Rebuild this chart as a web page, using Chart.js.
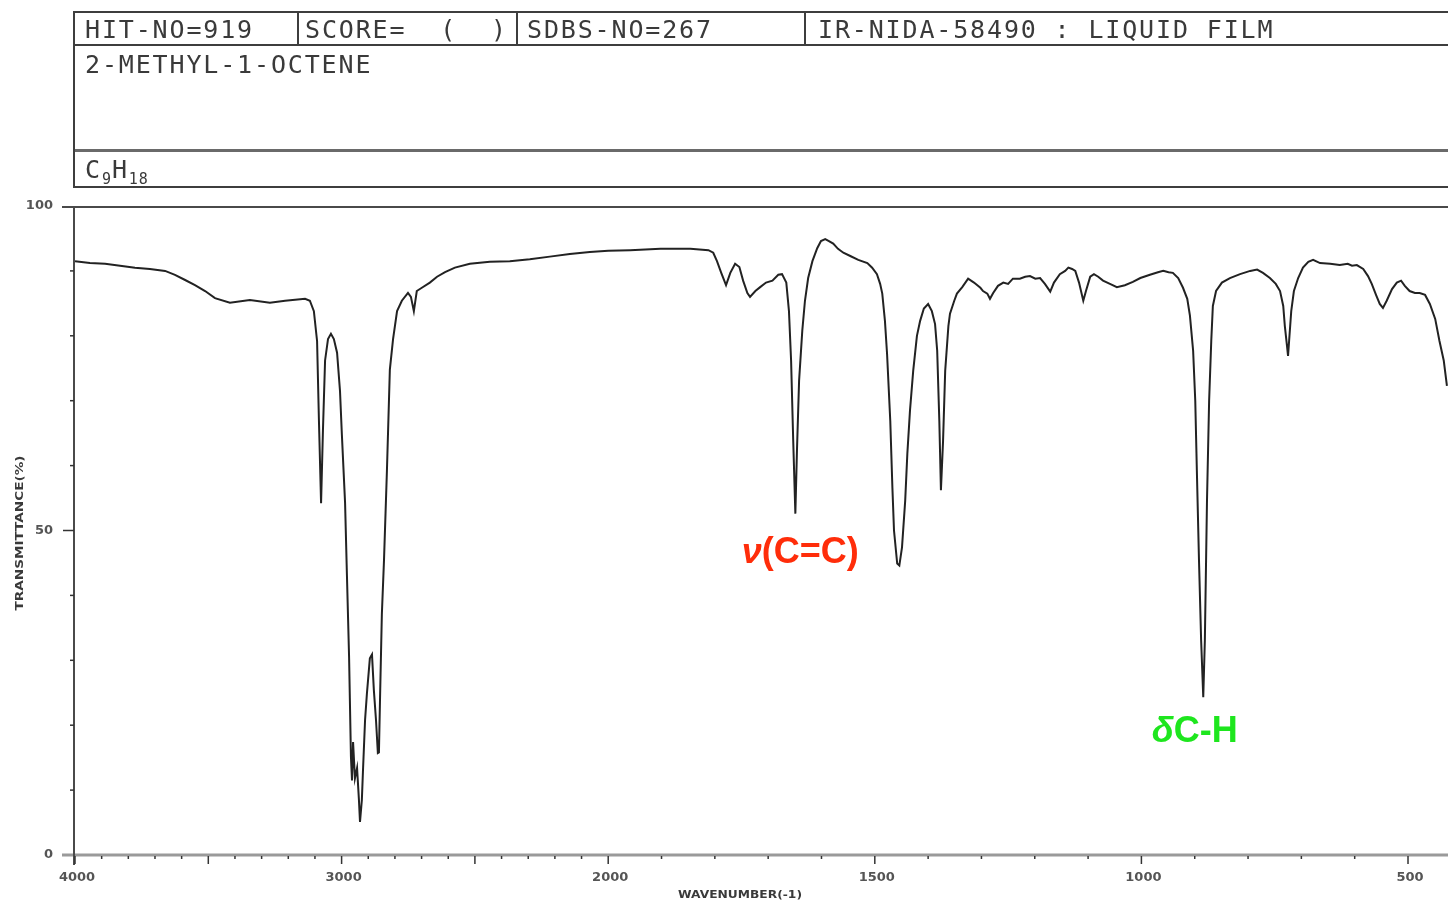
<!DOCTYPE html>
<html>
<head>
<meta charset="utf-8">
<title>2-METHYL-1-OCTENE IR</title>
<script src="https://cdn.jsdelivr.net/npm/chart.js@4.4.1/dist/chart.umd.min.js"></script>
<style>
  html, body { margin: 0; padding: 0; background: #fff; }
  #wrap { position: relative; width: 1448px; height: 904px; overflow: hidden; }
  #ir { position: absolute; left: 0; top: 0; }
  .ln { position: absolute; background: #3e3e3e; }
  .tx {
    position: absolute; font-family: "DejaVu Sans Mono", monospace; font-size: 25px;
    line-height: 1; letter-spacing: 1.85px; color: #3a3a3a; white-space: pre;
  }
  .tx sub { font-size: 15px; letter-spacing: 1px; vertical-align: -6px; line-height: 1; }
</style>
</head>
<body>
<div id="wrap">
  <canvas id="ir" width="1448" height="904"></canvas>
  <!-- header block -->
  <div class="ln" style="left:73px;top:11px;width:1380px;height:2px"></div>
  <div class="ln" style="left:73px;top:44px;width:1380px;height:2px"></div>
  <div class="ln" style="left:73px;top:149px;width:1380px;height:3px;background:#6a6a6a"></div>
  <div class="ln" style="left:73px;top:186px;width:1380px;height:2px"></div>
  <div class="ln" style="left:73px;top:11px;width:2px;height:177px"></div>
  <div class="ln" style="left:297px;top:11px;width:2px;height:34px"></div>
  <div class="ln" style="left:516px;top:11px;width:2px;height:34px"></div>
  <div class="ln" style="left:804px;top:11px;width:2px;height:34px"></div>
  <div class="tx" style="left:85px;top:17px">HIT-NO=919</div>
  <div class="tx" style="left:305px;top:17px">SCORE=  (  )</div>
  <div class="tx" style="left:527px;top:17px">SDBS-NO=267</div>
  <div class="tx" style="left:818px;top:17px">IR-NIDA-58490 : LIQUID FILM</div>
  <div class="tx" style="left:85px;top:52px">2-METHYL-1-OCTENE</div>
  <div class="tx" style="left:85px;top:157px">C<sub>9</sub>H<sub>18</sub></div>
</div>
<script>
// spectrum: wavenumber (cm-1) and transmittance (%)
const wavenumbers = [
  4000, 3944, 3887, 3831, 3775, 3719, 3662, 3625, 3587, 3550,
  3512, 3475, 3419, 3344, 3269, 3212, 3137, 3119, 3104, 3092,
  3085, 3077, 3070, 3062, 3051, 3040, 3029, 3017, 3006, 2999,
  2987, 2980, 2972, 2965, 2961, 2957, 2950, 2942, 2935, 2931,
  2924, 2920, 2912, 2905, 2894, 2886, 2879, 2871, 2864, 2860,
  2856, 2849, 2841, 2830, 2819, 2807, 2792, 2774, 2751, 2740,
  2729, 2718, 2699, 2669, 2642, 2612, 2575, 2519, 2444, 2369,
  2294, 2219, 2144, 2069, 2000,
  1959, 1902, 1846, 1812, 1803, 1796, 1788, 1779, 1771, 1762,
  1754, 1747, 1739, 1734, 1724, 1715, 1704, 1692, 1681, 1674,
  1666, 1661, 1657, 1653, 1649, 1646, 1642, 1636, 1631, 1625,
  1617, 1608, 1601, 1593, 1586, 1578, 1569, 1559, 1546, 1531,
  1514, 1505, 1496, 1490, 1486, 1481, 1477, 1471, 1467, 1464,
  1458, 1454, 1449, 1443, 1439, 1434, 1428, 1421, 1415, 1408,
  1400, 1393, 1387, 1383, 1379, 1376, 1372, 1368, 1362, 1359,
  1351, 1346, 1336, 1325, 1314, 1302, 1297, 1289, 1284, 1278,
  1269, 1259, 1250, 1241, 1228, 1218, 1209, 1199, 1190, 1181,
  1171, 1164, 1153, 1143, 1137, 1130, 1124, 1117, 1109, 1104,
  1096, 1089, 1081, 1072, 1059, 1046, 1031, 1016, 1002, 984,
  969, 959, 949, 941, 931, 922, 914, 909, 903, 899,
  896, 892, 888, 884, 881, 877, 873, 869, 866, 860,
  849, 834, 815, 796, 783, 772, 759, 748, 740, 734,
  731, 727, 725, 723, 719, 714, 706, 697, 687, 678,
  665, 646, 628, 613, 605, 596, 584, 575, 568, 560,
  553, 547, 540, 530, 521, 513, 506, 497, 487, 478,
  468, 459, 449, 441, 433, 427
];
const transmittance = [
  91.5, 91.2, 91.1, 90.8, 90.5, 90.3, 90.0, 89.4, 88.6, 87.8,
  86.9, 85.8, 85.1, 85.5, 85.1, 85.4, 85.7, 85.4, 83.8, 79.2,
  66.9, 54.2, 65.4, 76.2, 79.5, 80.3, 79.5, 77.4, 71.5, 64.8,
  54.3, 43.1, 30.6, 15.2, 11.5, 17.4, 11.8, 13.4, 8.5, 5.1,
  8.5, 12.8, 20.8, 24.9, 30.3, 30.9, 25.4, 20.8, 15.7, 15.8,
  23.8, 37.1, 45.4, 59.2, 74.8, 79.5, 83.8, 85.4, 86.6, 86.0,
  83.8, 86.9, 87.4, 88.2, 89.1, 89.8, 90.5, 91.1, 91.4, 91.5,
  91.8, 92.2, 92.6, 92.9, 93.1,
  93.2, 93.4, 93.4, 93.2, 92.8, 91.5, 89.7, 87.8, 89.7, 91.1,
  90.6, 88.5, 86.6, 86.0, 86.9, 87.5, 88.2, 88.5, 89.4, 89.5,
  88.2, 83.8, 76.2, 63.8, 52.6, 62.3, 73.1, 80.8, 85.4, 88.9,
  91.5, 93.5, 94.6, 94.9, 94.6, 94.2, 93.4, 92.8, 92.3, 91.7,
  91.2, 90.5, 89.5, 88.0, 86.5, 82.3, 77.2, 66.9, 56.6, 50.0,
  44.9, 44.6, 47.4, 54.6, 61.8, 68.5, 74.6, 80.0, 82.3, 84.2,
  84.9, 83.8, 81.8, 77.7, 66.9, 56.2, 63.8, 74.6, 81.5, 83.4,
  85.4, 86.5, 87.5, 88.8, 88.2, 87.4, 86.9, 86.5, 85.7, 86.6,
  87.7, 88.2, 88.0, 88.8, 88.8, 89.1, 89.2, 88.8, 88.9, 88.0,
  86.8, 88.2, 89.5, 90.0, 90.5, 90.3, 90.0, 88.2, 85.4, 86.9,
  89.1, 89.5, 89.1, 88.5, 88.0, 87.5, 87.8, 88.3, 88.9, 89.4,
  89.8, 90.0, 89.8, 89.7, 88.9, 87.4, 85.7, 83.1, 77.7, 70.0,
  59.2, 45.4, 33.1, 24.3, 33.1, 54.6, 70.0, 79.2, 84.6, 86.9,
  88.2, 88.9, 89.5, 90.0, 90.2, 89.7, 88.9, 88.0, 86.9, 84.6,
  81.5, 78.5, 76.9, 79.2, 83.8, 86.9, 88.9, 90.5, 91.4, 91.7,
  91.2, 91.1, 90.9, 91.1, 90.8, 90.9, 90.3, 89.2, 88.0, 86.3,
  84.9, 84.3, 85.4, 87.2, 88.2, 88.5, 87.7, 86.9, 86.6, 86.6,
  86.3, 84.9, 82.6, 79.2, 76.2, 72.3
];

const xTickLabels = [4000, 3000, 2000, 1500, 1000, 500];
const yTickLabels = [0, 50, 100];
const xTitle = 'WAVENUMBER(-1)';
const yTitle = 'TRANSMITTANCE(%)';

const bandLabels = ['ν(C=C)', 'δC-H'];
const bandWavenumbers = [1640, 900];
const bandTransmittance = [45, 17.4];

// SDBS charts use half scale above 2000 cm-1
function toAxis(wn) {
  return wn >= 2000 ? (4000 - wn) / 2 : 1000 + (2000 - wn);
}
const X_MAX = 2575;

function drawStretched(ctx, text, cx, cy, width, font, angle) {
  ctx.save();
  ctx.translate(cx, cy);
  ctx.rotate(angle);
  ctx.font = font;
  const w = ctx.measureText(text).width;
  ctx.scale(width / w, 1);
  ctx.textAlign = 'center';
  ctx.textBaseline = 'middle';
  ctx.fillText(text, 0, 0);
  ctx.restore();
}

const irFrame = {
  id: 'irFrame',
  beforeDatasetsDraw(chart) {
    const { ctx, chartArea: a, scales: { x, y } } = chart;
    const seg = (x1, y1, x2, y2) => {
      ctx.beginPath(); ctx.moveTo(x1, y1); ctx.lineTo(x2, y2); ctx.stroke();
    };
    ctx.save();
    ctx.strokeStyle = '#9a9a9a';
    ctx.lineWidth = 3;
    seg(62, a.bottom, a.right, a.bottom);
    ctx.strokeStyle = '#4a4a4a';
    ctx.lineWidth = 2;
    seg(62, a.top + 1, a.right, a.top + 1);
    seg(a.left - 1, a.top, a.left - 1, a.bottom + 10);

    ctx.strokeStyle = '#333';
    ctx.lineWidth = 1.5;
    for (let t = 10; t < 100; t += 10) {
      const py = y.getPixelForValue(t);
      seg(a.left - (t === 50 ? 12 : 5), py, a.left - 1, py);
    }
    for (let wn = 4000; wn >= 400; wn -= 100) {
      const u = toAxis(wn);
      if (u > X_MAX) continue;
      const px = x.getPixelForValue(u);
      seg(px, a.bottom + 1, px, a.bottom + (wn % 500 === 0 ? 9 : 4));
    }
    ctx.restore();
  },
  afterDraw(chart) {
    const { ctx, chartArea: a, scales: { x, y } } = chart;
    ctx.save();
    ctx.fillStyle = '#555';
    ctx.font = 'bold 13px "DejaVu Sans"';
    ctx.textAlign = 'right';
    ctx.textBaseline = 'middle';
    yTickLabels.forEach((t) => ctx.fillText(String(t), 53, y.getPixelForValue(t)));
    ctx.textAlign = 'center';
    ctx.textBaseline = 'top';
    xTickLabels.forEach((wn) => {
      ctx.fillText(String(wn), x.getPixelForValue(toAxis(wn)) + 2, a.bottom + 16);
    });
    ctx.fillStyle = '#3a3a3a';
    drawStretched(ctx, xTitle, 740, 895, 124, 'bold 11px "DejaVu Sans"', 0);
    drawStretched(ctx, yTitle, 20, 533, 155, 'bold 11px "DejaVu Sans"', -Math.PI / 2);

    // band annotations
    const colors = ['#ff2d0a', '#1ee61e'];
    bandLabels.forEach((label, i) => {
      const px = x.getPixelForValue(toAxis(bandWavenumbers[i]));
      const py = y.getPixelForValue(bandTransmittance[i]);
      const head = label[0];
      const rest = label.slice(1);
      ctx.font = 'italic bold 36px "Liberation Sans"';
      const wHead = ctx.measureText(head).width;
      ctx.font = 'bold 36px "Liberation Sans"';
      const wRest = ctx.measureText(rest).width;
      const left = px - (wHead + wRest) / 2;
      ctx.fillStyle = colors[i];
      ctx.textAlign = 'left';
      ctx.textBaseline = 'alphabetic';
      ctx.font = 'italic bold 36px "Liberation Sans"';
      ctx.fillText(head, left, py);
      ctx.font = 'bold 36px "Liberation Sans"';
      ctx.fillText(rest, left + wHead, py);
    });
    ctx.restore();
  },
};

new Chart(document.getElementById('ir'), {
  type: 'line',
  data: {
    datasets: [{
      data: wavenumbers.map((wn, i) => ({ x: toAxis(wn), y: transmittance[i] })),
      borderColor: '#222',
      borderWidth: 2,
      pointRadius: 0,
      tension: 0,
      fill: false,
    }],
  },
  options: {
    responsive: false,
    animation: false,
    events: [],
    layout: { padding: { left: 75, top: 206, right: 0, bottom: 49 } },
    scales: {
      x: { type: 'linear', display: false, min: 0, max: X_MAX },
      y: { display: false, min: 0, max: 100 },
    },
    plugins: { legend: { display: false }, tooltip: { enabled: false } },
  },
  plugins: [irFrame],
});
</script>
</body>
</html>
